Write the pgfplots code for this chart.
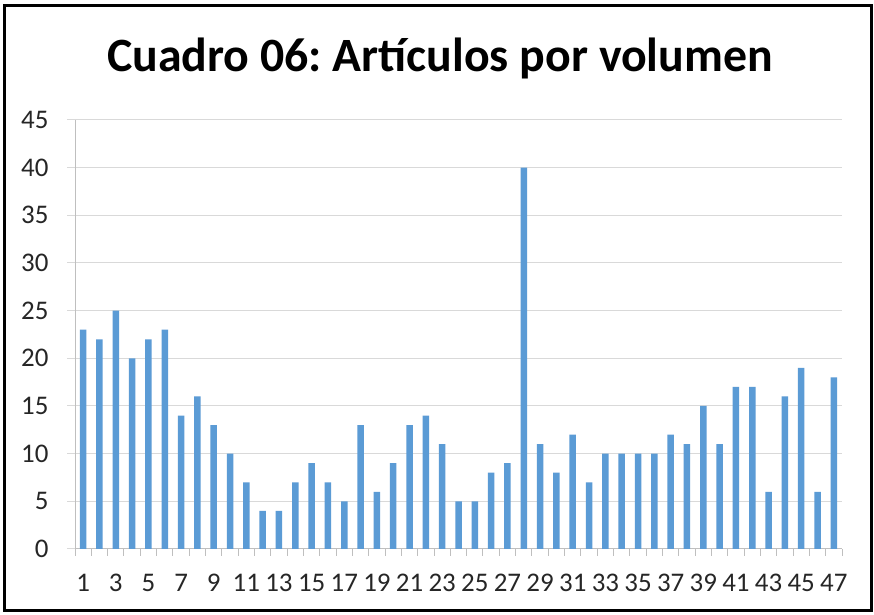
\documentclass[border=0pt]{standalone}
\usepackage{pgfplots}
\pgfplotsset{compat=1.18}
\usepackage{fontspec}
\setmainfont{Carlito}
\frenchspacing
\definecolor{barblue}{RGB}{91,155,213}
\definecolor{gridgray}{RGB}{217,217,217}
\definecolor{axgray}{RGB}{191,191,191}
\definecolor{txtgray}{RGB}{38,38,38}
\begin{document}
\begin{tikzpicture}[x=1bp,y=1bp]
\useasboundingbox (0,0) rectangle (874,615);
\fill[white] (0,0) rectangle (874,615);
\draw[line width=3bp,black] (4.5,4) rectangle (871.5,609);
\node[font=\fontsize{48}{50}\selectfont\bfseries, text=black] at (440,557) {Cuadro 06: Artículos por volumen};
\begin{axis}[
  at={(75bp,66bp)}, anchor=south west,
  scale only axis, width=767bp, height=429bp,
  xmin=0.5, xmax=47.5, ymin=0, ymax=45,
  ybar, bar width=6.5bp,
  axis x line*=bottom, axis y line*=left,
  axis line style={draw=axgray, line width=1bp, -},
  xtick={1,3,...,47},
  minor xtick={0.5,1.5,...,47.5},
  ytick={0,5,...,45},
  tick align=outside,
  major tick length=8bp, minor tick length=7bp,
  xtick style={draw=none},
  minor x tick style={draw=axgray, line width=1bp},
  ytick style={draw=gridgray, line width=1bp},
  ymajorgrids, grid style={draw=gridgray, line width=1bp},
  /pgf/number format/assume math mode=true,
  ticklabel style={font=\fontsize{27}{29}\selectfont, text=txtgray},
  xticklabel style={yshift=-14bp},
  yticklabel style={xshift=-15bp},
  clip=false,
]
\addplot[fill=barblue, draw=none] coordinates {
(1,23) (2,22) (3,25) (4,20) (5,22) (6,23) (7,14) (8,16) (9,13) (10,10)
(11,7) (12,4) (13,4) (14,7) (15,9) (16,7) (17,5) (18,13) (19,6) (20,9)
(21,13) (22,14) (23,11) (24,5) (25,5) (26,8) (27,9) (28,40) (29,11) (30,8)
(31,12) (32,7) (33,10) (34,10) (35,10) (36,10) (37,12) (38,11) (39,15) (40,11)
(41,17) (42,17) (43,6) (44,16) (45,19) (46,6) (47,18)
};
\end{axis}
\end{tikzpicture}
\end{document}
